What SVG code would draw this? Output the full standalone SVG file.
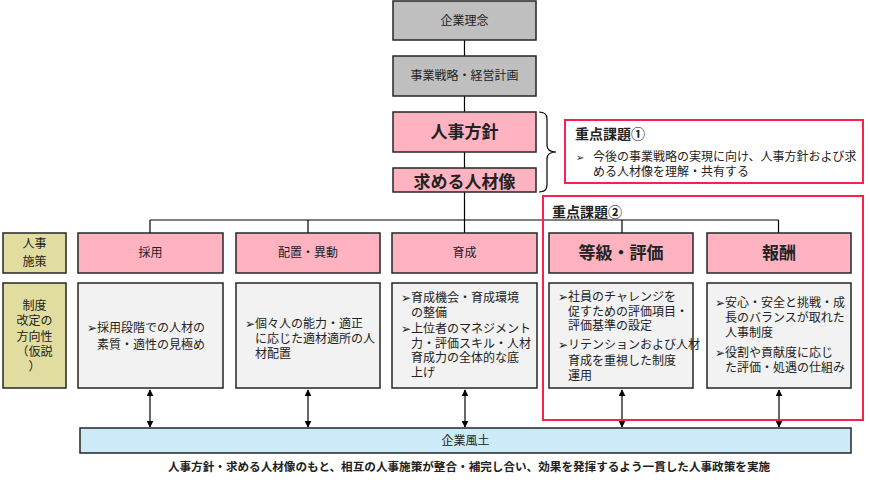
<svg xmlns="http://www.w3.org/2000/svg" width="870" height="480" viewBox="0 0 870 480">
<defs>
<marker id="ah" viewBox="0 0 10 10" refX="9" refY="5" markerWidth="7" markerHeight="7" orient="auto-start-reverse" markerUnits="userSpaceOnUse"><path d="M0,0 L10,5 L0,10 z" fill="#000"/></marker>
<style>
text{font-family:"Noto Sans CJK JP","Noto Sans CJK SC",sans-serif;fill:#222;}
.box{stroke:#262626;stroke-width:1.5;}
.grey{fill:#bfbfbf;}
.pink{fill:#ffb3c1;}
.body{fill:#f2f2f2;}
.olive{fill:#e1dc9f;}
.blue{fill:#cdeaf9;}
.red{fill:none;stroke:#ff1f4f;stroke-width:2;}
.c{text-anchor:middle;}
.s12{font-size:12px;}
.b17{font-size:17px;font-weight:bold;}
.t{font-size:12px;}
.bu{font-size:12px;font-family:"DejaVu Sans",sans-serif;}
.line{stroke:#000;stroke-width:1.2;fill:none;}
.arr{stroke:#000;stroke-width:1.2;marker-start:url(#ah);marker-end:url(#ah);}
</style>
</defs>
<rect width="870" height="480" fill="#fff"/>

<g id="connectors">
<path class="line" d="M464.5,40 V56 M464.5,96 V112 M464.5,152 V168 M464.5,192 V233 M150,220 H778.5 M150,220 V233 M308,220 V233 M622,220 V233 M778.5,220 V233"/>
<line class="arr" x1="150" y1="390" x2="150" y2="427"/>
<line class="arr" x1="308" y1="390" x2="308" y2="427"/>
<line class="arr" x1="465" y1="390" x2="465" y2="427"/>
<line class="arr" x1="622" y1="390" x2="622" y2="427"/>
<line class="arr" x1="779" y1="390" x2="779" y2="427"/>
<path class="line" d="M539,112 Q547,112 547,119 L547,145 Q547,152 556,152 Q547,152 547,159 L547,185 Q547,192 539,192"/>
</g>

<g id="kigyorinen"><rect class="box grey" x="393" y="1" width="143" height="39"/><text class="c s12" x="464.5" y="25">企業理念</text></g>
<g id="senryaku"><rect class="box grey" x="393" y="56" width="143" height="40"/><text class="c s12" x="464.5" y="80">事業戦略・経営計画</text></g>
<g id="hoshin"><rect class="box pink" x="393" y="112" width="143" height="40"/><text class="c b17" x="464.5" y="138">人事方針</text></g>
<g id="jinzaizo"><rect class="box pink" x="393" y="168" width="143" height="24"/><text class="c b17" x="464.5" y="188">求める人材像</text></g>

<g id="kadai1"><rect class="red" x="565" y="120" width="298" height="63"/>
<text x="575" y="139" style="font-size:14px;font-weight:bold">重点課題①</text>
<text class="t"><tspan class="bu" x="576" y="161" style="font-size:10px">➢</tspan><tspan x="593" y="161">今後の事業戦略の実現に向け、人事方針および求</tspan><tspan x="593" y="176">める人材像を理解・共有する</tspan></text></g>

<g id="kadai2"><rect class="red" x="543" y="196" width="320" height="224"/>
<text x="552" y="217" style="font-size:14px;font-weight:bold">重点課題②</text></g>

<g id="label1"><rect class="box olive" x="3" y="233" width="63" height="40"/><text class="c s12"><tspan x="34.5" y="248">人事</tspan><tspan x="34.5" y="266">施策</tspan></text></g>
<g id="label2"><rect class="box olive" x="3" y="283" width="63" height="105"/>
<text class="c s12"><tspan x="34.5" y="310">制度</tspan><tspan x="34.5" y="325">改定の</tspan><tspan x="34.5" y="341">方向性</tspan><tspan x="34.5" y="356">（仮説</tspan><tspan x="34.5" y="371">）</tspan></text></g>

<g id="saiyo"><rect class="box pink" x="78" y="233" width="145" height="40"/><text class="c s12" x="150.5" y="257">採用</text></g>
<g id="haichi"><rect class="box pink" x="236" y="233" width="144" height="40"/><text class="c s12" x="308" y="257">配置・異動</text></g>
<g id="ikusei"><rect class="box pink" x="392" y="233" width="145" height="40"/><text class="c s12" x="464.5" y="257">育成</text></g>
<g id="tokyu"><rect class="box pink" x="549" y="233" width="144" height="40"/><text class="c b17" x="621" y="259">等級・評価</text></g>
<g id="hoshu"><rect class="box pink" x="707" y="233" width="144" height="40"/><text class="c b17" x="779" y="259">報酬</text></g>

<g id="saiyo-body"><rect class="box body" x="78" y="283" width="145" height="105"/>
<text class="t"><tspan class="bu" x="87" y="332">➢</tspan><tspan x="97" y="332">採用段階での人材の</tspan><tspan x="97" y="349">素質・適性の見極め</tspan></text></g>

<g id="haichi-body"><rect class="box body" x="236" y="283" width="144" height="105"/>
<text class="t"><tspan class="bu" x="245" y="328">➢</tspan><tspan x="255" y="328">個々人の能力・適正</tspan><tspan x="255" y="343">に応じた適材適所の人</tspan><tspan x="255" y="358">材配置</tspan></text></g>

<g id="ikusei-body"><rect class="box body" x="392" y="283" width="145" height="105"/>
<text class="t"><tspan class="bu" x="401" y="302">➢</tspan><tspan x="411" y="302">育成機会・育成環境</tspan><tspan x="411" y="317">の整備</tspan><tspan class="bu" x="401" y="333">➢</tspan><tspan x="411" y="333">上位者のマネジメント</tspan><tspan x="411" y="348">力・評価スキル・人材</tspan><tspan x="411" y="362">育成力の全体的な底</tspan><tspan x="411" y="377">上げ</tspan></text></g>

<g id="tokyu-body"><rect class="box body" x="549" y="283" width="144" height="105"/>
<text class="t"><tspan class="bu" x="558" y="301">➢</tspan><tspan x="568" y="301">社員のチャレンジを</tspan><tspan x="568" y="316">促すための評価項目・</tspan><tspan x="568" y="330">評価基準の設定</tspan><tspan class="bu" x="558" y="349">➢</tspan><tspan x="568" y="349">リテンションおよび人材</tspan><tspan x="568" y="365">育成を重視した制度</tspan><tspan x="568" y="380">運用</tspan></text></g>

<g id="hoshu-body"><rect class="box body" x="707" y="283" width="144" height="105"/>
<text class="t"><tspan class="bu" x="715" y="307">➢</tspan><tspan x="725" y="307">安心・安全と挑戦・成</tspan><tspan x="725" y="322">長のバランスが取れた</tspan><tspan x="725" y="337">人事制度</tspan><tspan class="bu" x="715" y="357">➢</tspan><tspan x="725" y="357">役割や貢献度に応じ</tspan><tspan x="725" y="372">た評価・処遇の仕組み</tspan></text></g>

<g id="fudo"><rect class="box blue" x="80" y="428" width="771" height="25"/><text class="c s12" x="465.5" y="445">企業風土</text></g>

<g id="footer"><text class="c" x="469" y="471" style="font-size:11.6px;font-weight:bold">人事方針・求める人材像のもと、相互の人事施策が整合・補完し合い、効果を発揮するよう一貫した人事政策を実施</text></g>
</svg>
